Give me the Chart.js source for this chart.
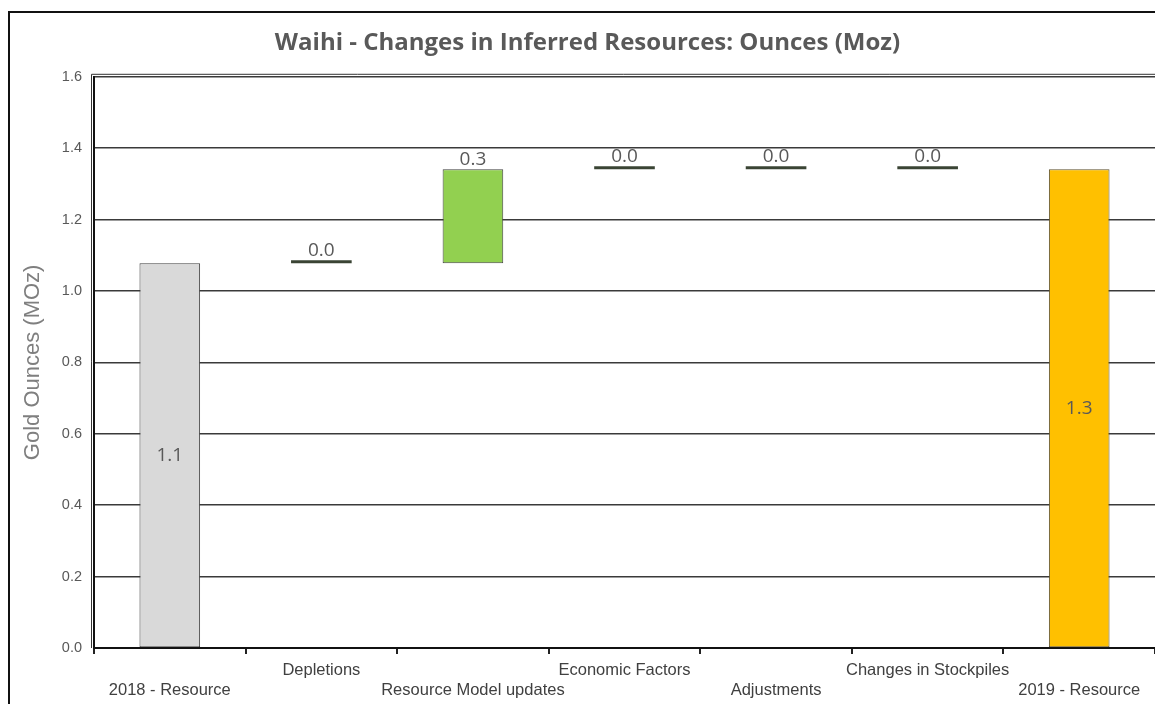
<!DOCTYPE html>
<html>
<head>
<meta charset="utf-8">
<script src="https://cdn.jsdelivr.net/npm/chart.js@4.4.0/dist/chart.umd.min.js"></script>
<style>
    html, body { margin: 0; padding: 0; background: #fff; overflow: hidden; }
    #wrap { position: relative; width: 1155px; height: 704px; }
    #frame { position: absolute; left: 8px; top: 11px; width: 1220px; height: 800px; border: 2px solid #111; box-sizing: border-box; }
    #c { position: absolute; left: 0; top: 0; }
</style>
</head>
<body>
<div id="wrap">
    <div id="frame"></div>
    <canvas id="c" width="1155" height="704"></canvas>
</div>
<script>
// ------------------------------------
// Data
// ------------------------------------
const categories = ['2018 - Resource', 'Depletions', 'Resource Model updates', 'Economic Factors', 'Adjustments', 'Changes in Stockpiles', '2019 - Resource'];
const labelRow = [1, 0, 1, 0, 1, 0, 1]; // 0 = upper row, 1 = lower row
const changes = [1.078, 0.0, 0.263, 0.0, 0.0, 0.0, 1.341];
const isTotal = [true, false, false, false, false, false, true];
const barColors = ['#d9d9d9', '#3a4434', '#92d050', '#3a4434', '#3a4434', '#3a4434', '#ffc000'];
const barBorders = ['#404040', '#3a4434', '#404040', '#3a4434', '#3a4434', '#3a4434', '#5e5230'];
const yTicks = [0.0, 0.2, 0.4, 0.6, 0.8, 1.0, 1.2, 1.4, 1.6];

// build floating bars for the waterfall
let running = 0;
const floating = changes.map((v, i) => {
    if (isTotal[i]) { running = v; return [0, v]; }
    const seg = [running, running + v];
    running += v;
    return seg;
});

// staggered x labels
const xLabels = categories.map((c, i) => labelRow[i] === 0 ? [c, ''] : ['', c]);

// ------------------------------------
// Plugins
// ------------------------------------
const valueLabels = {
    id: 'valueLabels',
    afterDatasetsDraw(chart) {
        const ctx = chart.ctx;
        const meta = chart.getDatasetMeta(0);
        ctx.save();
        ctx.font = '19px "Open Sans", sans-serif';
        ctx.fillStyle = '#595959';
        ctx.textAlign = 'center';
        meta.data.forEach((bar, i) => {
            const txt = changes[i].toFixed(1);
            const top = Math.min(bar.y, bar.base);
            if (isTotal[i]) {
                ctx.textBaseline = 'middle';
                ctx.fillText(txt, bar.x, (bar.y + bar.base) / 2);
            } else {
                ctx.textBaseline = 'bottom';
                ctx.fillText(txt, bar.x, top);
            }
        });
        ctx.restore();
    }
};

const plotFrame = {
    id: 'plotFrame',
    beforeDatasetsDraw(chart) {
        const { ctx, chartArea: a } = chart;
        ctx.save();
        ctx.strokeStyle = '#333';
        ctx.lineWidth = 1;
        ctx.beginPath();
        ctx.moveTo(a.left - 2.5, a.bottom);
        ctx.lineTo(a.left - 2.5, a.top - 2.5);
        ctx.lineTo(a.right + 5, a.top - 2.5);
        ctx.stroke();
        ctx.restore();
    }
};

// ------------------------------------
// Chart
// ------------------------------------
const ctx = document.getElementById('c').getContext('2d');
new Chart(ctx, {
    type: 'bar',
    data: {
        labels: xLabels,
        datasets: [{
            data: floating,
            backgroundColor: barColors,
            borderColor: barBorders,
            borderWidth: isTotal.map((t, i) => (t || changes[i] !== 0) ? 1 : 0),
            borderSkipped: false,
            minBarLength: 3,
            barPercentage: 0.4,
            categoryPercentage: 1.0
        }]
    },
    options: {
        responsive: false,
        animation: false,
        layout: { padding: { left: 20, right: 0, top: 29, bottom: 0 } },
        plugins: {
            legend: { display: false },
            tooltip: { enabled: false },
            title: {
                display: true,
                text: 'Waihi - Changes in Inferred Resources: Ounces (Moz)',
                color: '#595959',
                font: { family: '"Open Sans", sans-serif', size: 24, weight: 'bold' },
                padding: { top: 0, bottom: 19 }
            }
        },
        scales: {
            x: {
                afterFit(scale) { scale.height = 56; },
                grid: { offset: true, drawOnChartArea: false, drawTicks: true, tickLength: 6, color: '#222', lineWidth: 2 },
                border: { color: '#111', width: 2 },
                ticks: {
                    color: '#404040',
                    font: { family: '"Liberation Sans", Arial, sans-serif', size: 16.5, lineHeight: 1.2 },
                    maxRotation: 0,
                    autoSkip: false,
                    padding: 7
                }
            },
            y: {
                min: 0,
                max: 1.6,
                afterBuildTicks(scale) { scale.ticks = yTicks.map(v => ({ value: v })); },
                afterFit(scale) { scale.width = 74; },
                grid: { color: '#3a3a3a', lineWidth: 1.5, drawTicks: false },
                border: { color: '#111', width: 2 },
                title: {
                    display: true,
                    text: 'Gold Ounces (MOz)',
                    color: '#7f7f7f',
                    font: { family: '"Liberation Sans", Arial, sans-serif', size: 22 },
                    padding: { top: 0, bottom: 6 }
                },
                ticks: {
                    color: '#595959',
                    font: { family: '"Liberation Sans", Arial, sans-serif', size: 14.5 },
                    padding: 12,
                    callback: v => v.toFixed(1)
                }
            }
        }
    },
    plugins: [valueLabels, plotFrame]
});
</script>
</body>
</html>
